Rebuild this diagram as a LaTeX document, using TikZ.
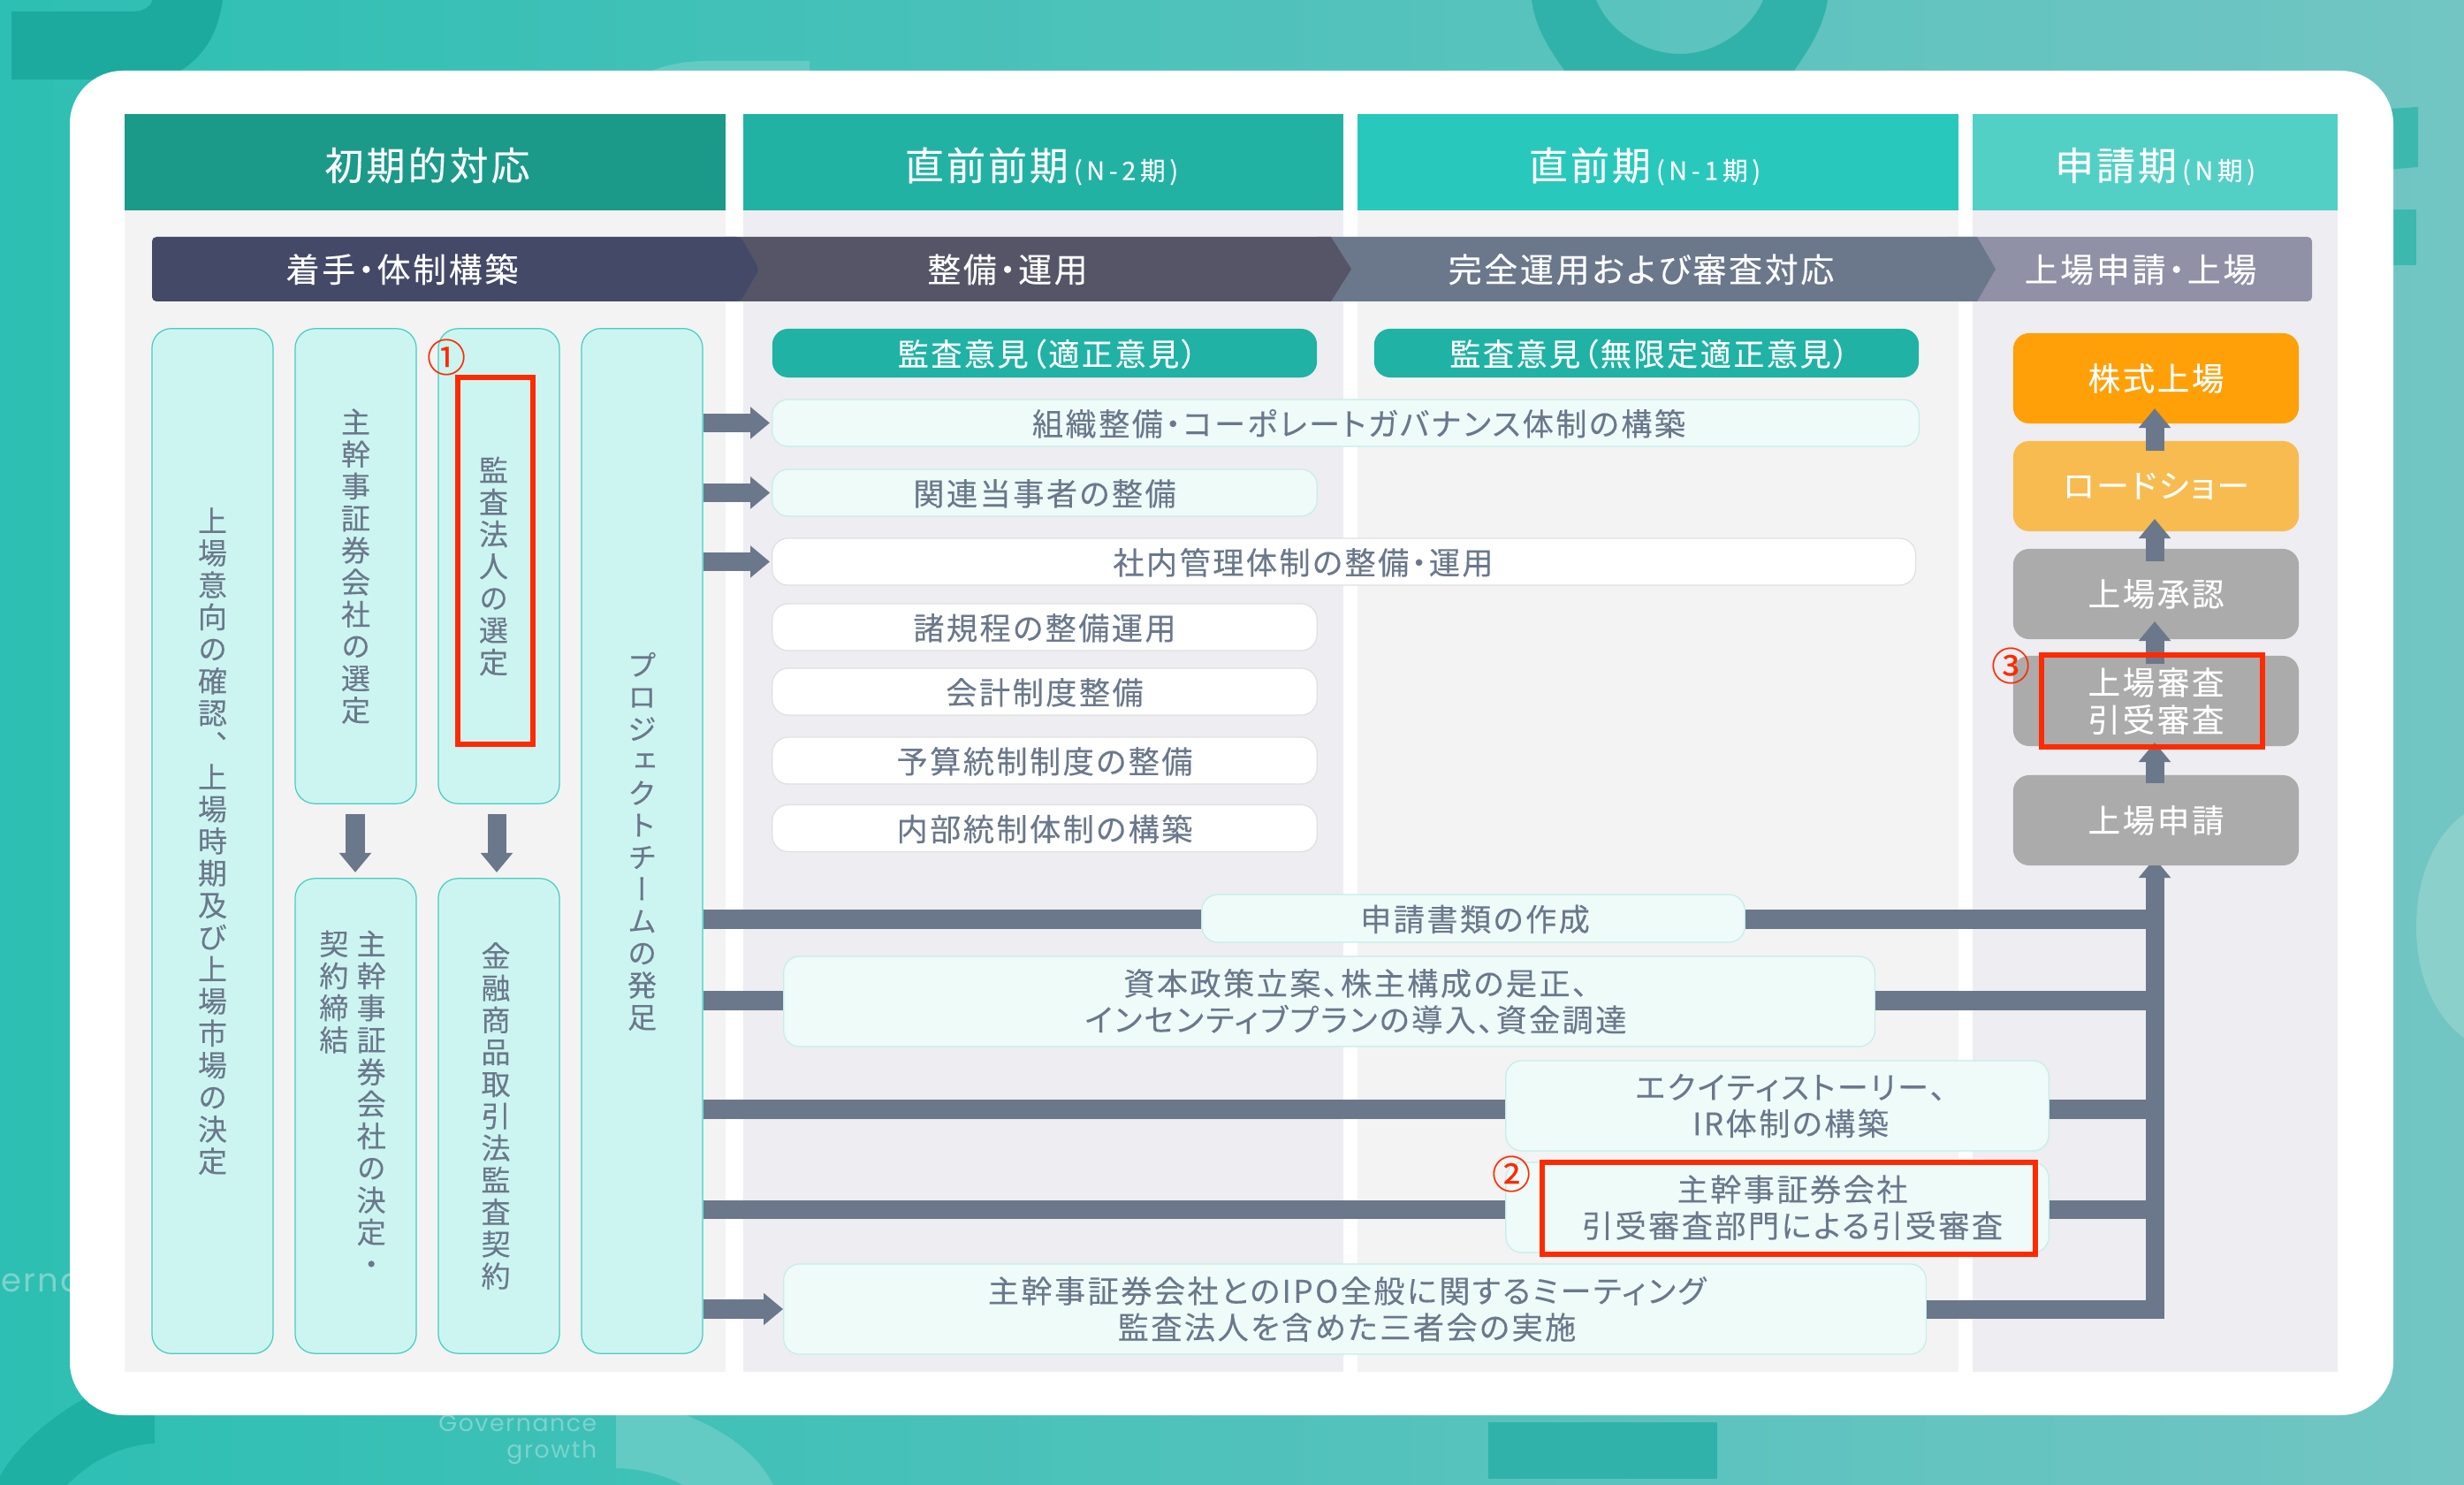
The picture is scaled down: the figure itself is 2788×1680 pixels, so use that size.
\documentclass[tikz,border=0pt]{standalone}
\usepackage{fontspec}
\usetikzlibrary{arrows.meta}
\setmainfont{Noto Sans CJK JP}[RawFeature={+palt},LetterSpace=7,FakeBold=0.12]
\newfontfamily\tatefont{Noto Sans CJK JP}[RawFeature={+vert},FakeBold=0.12]
\newfontfamily\flatfont{Noto Sans CJK JP}[FakeBold=0.3]
\newfontfamily\bgfont{Poppins}[LetterSpace=6]
\definecolor{barcol}{HTML}{6B788B}
\definecolor{rouge}{HTML}{FF2A00}
\definecolor{tatefill}{HTML}{CCF5F1}
\definecolor{tateline}{HTML}{45CEC3}
\definecolor{itemfill}{HTML}{EEFBF9}
\definecolor{itemline}{HTML}{C6EDE9}
\definecolor{auditfill}{HTML}{20B2A5}
\definecolor{bgleft}{HTML}{2DBFB3}
\definecolor{bgmid}{HTML}{4CC3B9}
\definecolor{bgright}{HTML}{72C5C3}
\definecolor{bgdark}{HTML}{30B2AA}
\definecolor{bgcorner}{HTML}{1CAA9E}
\definecolor{bgpale}{HTML}{63CBC3}
\definecolor{bgside}{HTML}{3DB8AE}
\definecolor{bground}{HTML}{8BD0CB}
\definecolor{bglow}{HTML}{1FB0A4}
\definecolor{bgtext}{HTML}{7ED3CC}
\definecolor{colgrey}{HTML}{F3F3F3}
\definecolor{colblue}{HTML}{EDEDF2}
\definecolor{headA}{HTML}{1B9A8A}
\definecolor{headB}{HTML}{22B2A4}
\definecolor{headC}{HTML}{28C9BC}
\definecolor{headD}{HTML}{52D0C5}
\definecolor{phaseA}{HTML}{434966}
\definecolor{phaseB}{HTML}{555567}
\definecolor{phaseD}{HTML}{9090A6}
\definecolor{flowA}{HTML}{FFA008}
\definecolor{flowB}{HTML}{F8BB50}
\definecolor{flowC}{HTML}{ABABAB}
\newlength{\tatestep}
\setlength{\tatestep}{10.3pt}
\makeatletter
\newcommand{\tate}[1]{\vtop{\offinterlineskip\@tfor\tatec:=#1\do{\hbox to 1.1em{\hss\rule[-1.6pt]{0pt}{\tatestep}\tatec\hss}}}}
\makeatother
\newcommand{\petit}[1]{\hspace{0.06cm}{\addfontfeature{LetterSpace=16}\fontsize{8.2}{10}\selectfont #1}}
\begin{document}
\begin{tikzpicture}[x=0.01cm, y=-0.01cm]
\tikzset{onerow/.style={text height=8.9pt, text depth=0.8pt}}
\tikzset{colhead/.style={text=white, minimum height=1.09cm, inner sep=0, text height=12pt, text depth=0.5pt, font=\fontsize{12.5}{15}\selectfont}}
\tikzset{phasetxt/.style={text=white, inner sep=0, onerow, font=\fontsize{10.8}{13}\selectfont}}
\tikzset{tatebox/.style={draw=tateline, line width=0.35pt, fill=tatefill, rounded corners=0.22cm, minimum width=1.37cm, inner sep=0, text=barcol, font=\tatefont\fontsize{9.4}{11}\selectfont}}
\tikzset{itembox/.style={draw=itemline, line width=0.35pt, fill=itemfill, rounded corners=0.18cm, align=center, inner sep=0, text=barcol, font=\fontsize{10}{11.7}\selectfont}}
\tikzset{blankbox/.style={itembox, onerow, draw=black!12, fill=white, minimum height=0.53cm}}
\tikzset{auditbox/.style={itembox, onerow, draw=none, fill=auditfill, text=white, minimum width=6.16cm, minimum height=0.55cm}}
\tikzset{flowbox/.style={rounded corners=0.18cm, text=white, align=center, inner sep=0, minimum width=3.23cm, minimum height=1.02cm, font=\fontsize{10.4}{12}\selectfont}}
\tikzset{flowbar/.style={barcol, line width=0.21cm}}
\tikzset{flowarrow/.style={flowbar, -{Triangle[length=0.22cm, width=0.35cm]}}}
\tikzset{numtxt/.style={text=rouge, inner sep=0, font=\flatfont\fontsize{12.5}{13}\selectfont}}
\tikzset{cadre/.style={draw=rouge, line width=0.055cm}}
\tikzset{bgtxt/.style={text=bgtext, inner sep=0, font=\bgfont\fontsize{7.6}{10}\selectfont}}
\useasboundingbox (0,0) rectangle (2788,1680);
\clip (0,0) rectangle (2788,1680);
% background
\shade[left color=bgleft, middle color=bgmid, right color=bgright] (0,0) rectangle (2788,1680);
\fill[bgcorner] (13,13) -- (150,13) .. controls (165,13) and (172,5) .. (172,0) -- (252,0) .. controls (245,50) and (220,75) .. (185,90) -- (13,90) -- cycle;
\fill[bgpale] (720,90) .. controls (745,72) and (780,69) .. (800,69) -- (916,69) -- (916,90) -- cycle;
\fill[bgdark] (1733,0) .. controls (1738,35) and (1755,60) .. (1785,100) -- (2015,100) .. controls (2045,60) and (2062,35) .. (2068,0) -- (1995,0) .. controls (1980,35) and (1940,61) .. (1901,61) .. controls (1860,61) and (1820,35) .. (1806,0) -- cycle;
\fill[bgside] (2690,124) -- (2736,121) -- (2736,189) -- (2690,193) -- cycle;
\fill[bgside] (2690,237) -- (2734,237) -- (2734,300) -- (2690,300) -- cycle;
\fill[bground] (2788,921) .. controls (2755,945) and (2734,990) .. (2734,1049) .. controls (2734,1105) and (2755,1150) .. (2788,1174) -- cycle;
\fill[bgdark] (1684,1609) rectangle (1943,1673);
\fill[bgpale] (697,1590) -- (745,1590) .. controls (810,1610) and (855,1640) .. (875,1680) -- (773,1680) .. controls (755,1670) and (725,1661) .. (697,1661) -- cycle;
\fill[bglow] (0,1670) .. controls (20,1635) and (55,1605) .. (99,1580) -- (175,1580) -- (175,1633) .. controls (135,1635) and (100,1655) .. (76,1680) -- (0,1680) -- cycle;
\node[bgtxt, anchor=east] (gov) at (676,1610) {Governance};
\node[bgtxt, anchor=east] (gro) at (676,1643) {growth};
\node[bgtxt, anchor=west, font=\bgfont\fontsize{10.5}{12}\selectfont] (gov2) at (1,1451) {erna};
\fill[white, rounded corners=0.6cm] (79,80) rectangle (2708,1601);
% columns
\fill[colgrey] (141,238) rectangle (821,1552);
\fill[colblue] (841,238) rectangle (1520,1552);
\fill[colgrey] (1536,238) rectangle (2216,1552);
\fill[colblue] (2232,238) rectangle (2645,1552);
\node[colhead, fill=headA, minimum width=6.8cm] (head1) at (481,183.5) {\hspace*{0.05cm}初期的対応};
\node[colhead, fill=headB, minimum width=6.79cm] (head2) at (1180.5,183.5) {直前前期\petit{(N-2期)}\hspace*{0.04cm}};
\node[colhead, fill=headC, minimum width=6.8cm] (head3) at (1876,183.5) {直前期\petit{(N-1期)}\hspace*{0.3cm}};
\node[colhead, fill=headD, minimum width=4.13cm] (head4) at (2438.5,183.5) {申請期\petit{(N期)}};
% phases
\fill[phaseD, rounded corners=0.05cm] (2200,268) -- (2616,268) -- (2616,341) -- (2200,341) -- cycle;
\fill[barcol] (1490,268) -- (2237,268) -- (2258,304.5) -- (2237,341) -- (1490,341) -- cycle;
\fill[phaseB] (820,268) -- (1506,268) -- (1529,304.5) -- (1506,341) -- (820,341) -- cycle;
\fill[phaseA, rounded corners=0.05cm] (172,268) -- (838,268) -- (859,304.5) -- (838,341) -- (172,341) -- cycle;
\node[phasetxt] (ph1) at (455,305) {着手・体制構築};
\node[phasetxt] (ph2) at (1140,305) {整備・運用};
\node[phasetxt] (ph3) at (1857,305) {完全運用および審査対応};
\node[phasetxt] (ph4) at (2422,305) {上場申請・上場};
% left column
\node[tatebox, minimum height=11.59cm] (intent) at (240.5,951.5) {\tate{上場意向の確認、上場時期及び上場市場の決定}};
\node[tatebox, minimum height=5.37cm] (select) at (402.5,640.5) {\tate{主幹事証券会社の選定}};
\node[tatebox, minimum height=5.37cm] (audit) at (564.5,640.5) {\hspace*{-0.12cm}\tate{監査法人の選定}};
\node[tatebox, minimum height=5.37cm] (decide) at (402.5,1262.5) {};
\node[text=barcol, inner sep=0, anchor=north, font=\tatefont\fontsize{9.4}{11}\selectfont] (decidetxt) at (399,1049) {\tate{契約締結}\hspace{0.06cm}\tate{主幹事証券会社の決定・}};
\node[tatebox, minimum height=5.37cm] (contract) at (564.5,1262.5) {\hspace*{-0.07cm}\tate{金融商品取引法監査契約}};
\node[tatebox, minimum height=11.59cm] (pj) at (726.5,951.5) {\tate{プロジェクトチームの発足}};
\coordinate (s1) at (402,921);
\coordinate (s2) at (402,987);
\coordinate (c1) at (562,921);
\coordinate (c2) at (562,987);
\draw[flowarrow] (s1) -- (s2);
\draw[flowarrow] (c1) -- (c2);
% centre column
\node[auditbox] (op1) at (1182,399.5) {\hspace*{0.06cm}監査意見（適正意見）};
\node[auditbox] (op2) at (1863,399.5) {\hspace*{0.06cm}監査意見（無限定適正意見）};
\node[itembox, onerow, minimum width=12.97cm, minimum height=0.53cm] (org) at (1522.5,478.5) {\hspace*{0.3cm}組織整備・コーポレートガバナンス体制の構築};
\node[itembox, onerow, minimum width=6.16cm, minimum height=0.53cm] (rel) at (1182,557.5) {関連当事者の整備};
\node[blankbox, minimum width=12.93cm] (mgmt) at (1520.5,635.5) {社内管理体制の整備・運用\hspace*{0.92cm}};
\node[blankbox, minimum width=6.16cm] (rules) at (1182,709.5) {諸規程の整備運用};
\node[blankbox, minimum width=6.16cm] (acct) at (1182,782.5) {会計制度整備};
\node[blankbox, minimum width=6.16cm] (budget) at (1182,860.5) {予算統制制度の整備};
\node[blankbox, minimum width=6.16cm] (ictl) at (1182,937) {内部統制体制の構築};
\draw[flowarrow, shorten >=0.02cm] (pj.east |- org) -- (org.west);
\draw[flowarrow, shorten >=0.02cm] (pj.east |- rel) -- (rel.west);
\draw[flowarrow, shorten >=0.02cm] (pj.east |- mgmt) -- (mgmt.west);
\coordinate (y1) at (0,1040);
\coordinate (y2) at (0,1132);
\coordinate (y3) at (0,1255);
\coordinate (y4) at (0,1368.5);
\coordinate (y5) at (0,1481.5);
\coordinate (top) at (2438,971);
\coordinate (bot) at (2438,1492);
\node[itembox, onerow, minimum width=6.14cm, minimum height=0.54cm] (apply) at (1667,1039) {\hspace*{0.04cm}申請書類の作成};
\node[itembox, minimum width=12.34cm, minimum height=1.02cm] (capital) at (1504,1133) {\hspace*{0.6cm}資本政策立案、株主構成の是正、\\\hspace*{0.6cm}インセンティブプランの導入、資金調達};
\node[itembox, minimum width=6.14cm, minimum height=1.02cm] (equity) at (2011,1251) {\hspace*{0.3cm}エクイティストーリー、\\\hspace*{0.3cm}IR体制の構築};
\node[itembox, minimum width=6.14cm, minimum height=1.02cm] (under) at (2011,1366) {\hspace*{0.34cm}主幹事証券会社\\\hspace*{0.34cm}引受審査部門による引受審査};
\node[itembox, minimum width=12.92cm, minimum height=1.02cm] (mtg) at (1533,1481) {主幹事証券会社とのIPO全般に関するミーティング\hspace*{0.18cm}\\監査法人を含めた三者会の実施\hspace*{0.18cm}};
\draw[flowbar] (pj.east |- y1) -- (apply.west |- y1);
\draw[flowbar] (apply.east |- y1) -- (top |- y1);
\draw[flowbar] (pj.east |- y2) -- (capital.west |- y2);
\draw[flowbar] (capital.east |- y2) -- (top |- y2);
\draw[flowbar] (pj.east |- y3) -- (equity.west |- y3);
\draw[flowbar] (equity.east |- y3) -- (top |- y3);
\draw[flowbar] (pj.east |- y4) -- (under.west |- y4);
\draw[flowbar] (under.east |- y4) -- (top |- y4);
\draw[flowbar] (mtg.east |- y5) -- (top |- y5);
\draw[flowarrow] (pj.east |- mtg) -- (mtg.west);
\draw[flowarrow] (bot) -- (top);
% right column
\node[flowbox, fill=flowA] (listing) at (2439.5,428) {株式上場};
\node[flowbox, fill=flowB] (road) at (2439.5,550) {ロードショー};
\node[flowbox, fill=flowC] (approve) at (2439.5,672) {上場承認};
\node[flowbox, fill=flowC] (review) at (2439.5,793) {上場審査\\引受審査};
\node[flowbox, fill=flowC] (appl) at (2439.5,928) {上場申請};
\coordinate (a1) at (2438,510);
\coordinate (a2) at (2438,462);
\coordinate (b1) at (2438,635);
\coordinate (b2) at (2438,587);
\coordinate (d1) at (2438,751);
\coordinate (d2) at (2438,703);
\coordinate (e1) at (2438,886);
\coordinate (e2) at (2438,840);
\draw[flowarrow] (a1) -- (a2);
\draw[flowarrow] (b1) -- (b2);
\draw[flowarrow] (d1) -- (d2);
\draw[flowarrow] (e1) -- (e2);
% marks
\draw[cadre] (518,427) rectangle (603,842);
\draw[cadre] (1745,1315) rectangle (2303,1419);
\draw[cadre] (2310,741) rectangle (2560,845);
\node[numtxt] (n1) at (505,404) {①};
\node[numtxt] (n2) at (1710,1328) {②};
\node[numtxt] (n3) at (2275,753) {③};
\end{tikzpicture}
\end{document}
